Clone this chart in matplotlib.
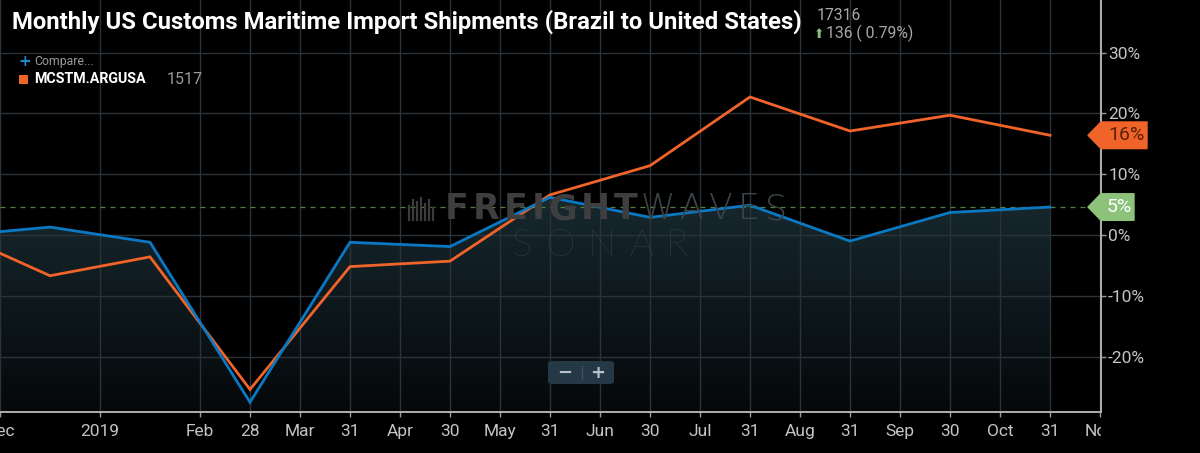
import matplotlib
matplotlib.use('Agg')
import matplotlib.pyplot as plt
import numpy as np
from matplotlib import font_manager
from matplotlib.patches import Polygon, FancyBboxPatch
from matplotlib.transforms import Bbox, IdentityTransform

# month-end data points (Nov 2018 .. Oct 2019), y/y change in %
point_dates = ['2018-11-30', '2018-12-31', '2019-01-31', '2019-02-28', '2019-03-31', '2019-04-30',
               '2019-05-31', '2019-06-30', '2019-07-31', '2019-08-31', '2019-09-30', '2019-10-31']
brazil_yoy = [-0.2, 1.3, -1.2, -27.5, -1.2, -1.9, 6.2, 2.9, 4.9, -1.0, 3.7, 4.6]
argusa_yoy = [0.7, -6.7, -3.6, -25.4, -5.2, -4.3, 6.6, 11.4, 22.7, 17.1, 19.7, 16.4]

month_labels = ['Dec', '2019', 'Feb', 'Mar', 'Apr', 'May', 'Jun', 'Jul', 'Aug', 'Sep', 'Oct', 'Nov']
day_labels = ['28', '31', '30', '31', '30', '31', '31', '30', '31']   # Feb 28 .. Oct 31
y_ticks = [-20, -10, 0, 10, 20, 30]

title = 'Monthly US Customs Maritime Import Shipments (Brazil to United States)'
main_value, main_change, main_pct = '17316', '136', '( 0.79%)'
compare_code, compare_value = 'MCSTM.ARGUSA', '1517'

BLUE = '#0a78c2'
ORANGE = '#f0642a'
GREEN = '#8cc27a'
GRID = '#2b3338'
TICKC = '#c4c4c4'

names = {f.name for f in font_manager.fontManager.ttflist}
cond = 'Liberation Sans Narrow' if 'Liberation Sans Narrow' in names else 'Roboto'

fig = plt.figure(figsize=(12, 4.53), dpi=100, facecolor='black')
W, H = 1200, 453
ax = fig.add_axes([0, 40.7 / H, 1101 / W, 1 - 40.7 / H])
ax.set_facecolor('black')

x = np.arange(len(point_dates))
xlim = (0.5, 11.51)
ylim = (-29.16, 38.65)

# gradient area under the Brazil series
fill = ax.fill_between(x, brazil_yoy, ylim[0], color='none', lw=0)
grad = np.linspace(0, 1, 256).reshape(-1, 1)
cmap = matplotlib.colors.LinearSegmentedColormap.from_list('g', ['#05080a', '#17292f'])
img = ax.imshow(grad, extent=(x[0], x[-1], ylim[0], 7), origin='lower', aspect='auto',
                cmap=cmap, zorder=0.2)
img.set_clip_path(fill.get_paths()[0], transform=ax.transData)

ax.plot(x, argusa_yoy, color=ORANGE, lw=2.0, zorder=4, solid_joinstyle='miter')
ax.plot(x, brazil_yoy, color=BLUE, lw=2.0, zorder=5, solid_joinstyle='miter')
ax.axhline(brazil_yoy[-1], color='#55803c', lw=0.9, ls=(0, (4, 4)), zorder=3)

ax.set_xlim(*xlim)
ax.set_ylim(*ylim)

# ticks: month starts sit half way between month-end points
month_pos = [i + 0.5 for i in range(len(month_labels))]
day_pos = list(range(3, 3 + len(day_labels)))
ticks = month_pos + day_pos
labels = month_labels + day_labels
order = np.argsort(ticks)
ax.set_xticks([ticks[i] for i in order])
ax.set_xticklabels([labels[i] for i in order], family='Roboto', fontsize=12.5, color=TICKC)
ax.yaxis.tick_right()
ax.set_yticks(y_ticks)
ax.set_yticklabels([f'{v}%' for v in y_ticks], family='Roboto', fontsize=12.5, color=TICKC)
ax.tick_params(axis='x', length=3.6, width=1, color='#9a9a9a', pad=5)
ax.tick_params(axis='y', length=3.6, width=1, color='#9a9a9a', pad=1.5)
ax.grid(True, color=GRID, lw=1)
ax.set_axisbelow(True)
for s in ['top', 'left']:
    ax.spines[s].set_visible(False)
for s in ['bottom', 'right']:
    ax.spines[s].set_color('#b0b0b0')
    ax.spines[s].set_linewidth(1.4)

# clip the last month label at the right spine
fig.canvas.draw()
renderer = fig.canvas.get_renderer()
clip = Bbox([[0, 0], [1101, H]])
for t in ax.get_xticklabels():
    t.set_clip_box(clip)
    t.set_clip_on(True)

# value tags at the right edge
def tag(val, face, txtc, width):
    xs = ax.transAxes.transform((1, 0))[0]
    yc = ax.transData.transform((0, val))[1]
    h = 13.3
    tip = xs - 13
    pts = [(tip, yc), (xs, yc + h), (xs + width, yc + h), (xs + width, yc - h), (xs, yc - h)]
    fig.patches.append(Polygon(pts, closed=True, facecolor=face, edgecolor=face, lw=1,
                               transform=IdentityTransform(), joinstyle='round', zorder=10))
    fig.text((xs + 2 + width / 2) / W, yc / H, f'{round(val)}%', ha='center', va='center',
             family='Roboto', fontsize=14, color=txtc, zorder=11)

tag(argusa_yoy[-1], ORANGE, '#5a2008', 46)
tag(brazil_yoy[-1], GREEN, 'white', 33)

# spread letters of a word between two x positions (pixels)
def spaced(word, x0, x1, y, **kw):
    arts = [fig.text(0, 1 - y / H, c, va='center', **kw) for c in word]
    widths = [a.get_window_extent(renderer).width for a in arts]
    gap = (x1 - x0 - sum(widths)) / max(len(word) - 1, 1)
    pos = x0
    for a, w in zip(arts, widths):
        a.set_x(pos / W)
        pos += w + gap

# watermark
for i, hgt in enumerate([14, 20, 18, 22, 16, 20, 12]):
    bx = 409 + i * 4
    fig.lines.append(plt.Line2D([bx / W, bx / W], [1 - 220 / H, 1 - (220 - hgt) / H], color='#3c3c3c',
                                lw=1.6, transform=fig.transFigure, zorder=1))
spaced('FREIGHT', 445, 638, 209, family='DejaVu Sans', weight='bold', fontsize=25, color='#3e3e3e',
       zorder=1)
spaced('WAVES', 641, 787, 209, family='DejaVu Sans', weight='light', fontsize=25, color='#3c4448',
       zorder=1)
spaced('SONAR', 512, 688, 246, family='Lato', weight='light', fontsize=27, color='#3a4a52', zorder=1)

# zoom buttons
fig.patches.append(FancyBboxPatch((548 / W, 1 - 384 / H), 66 / W, 23 / H,
                                  boxstyle='round,pad=0,rounding_size=0.005',
                                  transform=fig.transFigure, facecolor='#243846', edgecolor='none'))
fig.lines.append(plt.Line2D([582 / W, 582 / W], [1 - 379 / H, 1 - 366 / H], color='#3c5262', lw=1,
                            transform=fig.transFigure))
fig.text(565 / W, 1 - 373 / H, '−', fontsize=13, weight='bold', color='#b8c2c8', ha='center', va='center')
fig.text(598 / W, 1 - 373 / H, '+', fontsize=13, weight='bold', color='#b8c2c8', ha='center', va='center')

# header
fig.text(12 / W, 1 - 22 / H, title, family=cond, weight='bold', fontsize=17.2, color='white',
         va='center')
fig.text(817 / W, 1 - 15 / H, main_value, family='Roboto', fontsize=11.3, color='#a8a8a8', va='center')
fig.text(814 / W, 1 - 34 / H, '⬆', family='DejaVu Sans', fontsize=9, color=GREEN, va='center')
fig.text(826 / W, 1 - 33 / H, f'{main_change} {main_pct}', family='Roboto', fontsize=11.3,
         color='#a8a8a8', va='center')
fig.text(18 / W, 1 - 62 / H, '+', family='DejaVu Sans', weight='bold', fontsize=11, color='#1e88d0',
         va='center')
fig.text(34 / W, 1 - 62 / H, 'Compare...', family='Roboto', fontsize=8.8, color='#9a9a9a', va='center')
fig.patches.append(plt.Rectangle((19 / W, 1 - 84 / H), 9 / W, 9 / H, transform=fig.transFigure,
                                 facecolor=ORANGE, edgecolor='none'))
fig.text(34 / W, 1 - 79 / H, compare_code, family=cond, weight='bold', fontsize=10.3, color='white',
         va='center')
fig.text(167 / W, 1 - 79 / H, compare_value, family='Roboto', fontsize=11.5, color='#9a9a9a', va='center')

fig.savefig('out.png', dpi=100, facecolor='black')
